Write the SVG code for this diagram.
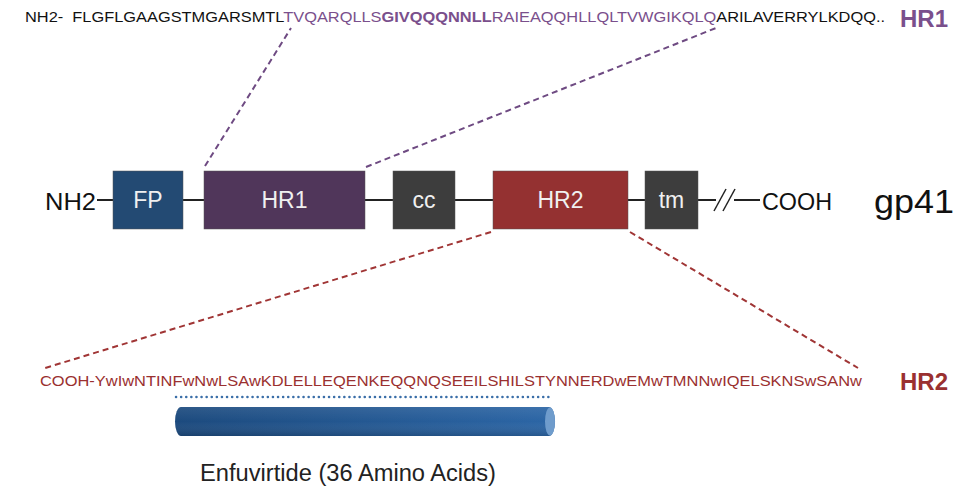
<svg xmlns="http://www.w3.org/2000/svg" width="978" height="491" viewBox="0 0 978 491">
<style>
.seq{font-family:"Liberation Sans",Arial,sans-serif;font-size:15px}
.blk{fill:#111}
.pur{fill:#7a4f8c}
.red{fill:#9a3030}
.box{stroke:#555;stroke-width:0.5}
.lbl{font-family:"Liberation Sans",Arial,sans-serif;font-size:23px;fill:#f0f0f0;text-anchor:middle}
.side{font-family:"Liberation Sans",Arial,sans-serif;font-size:24px;fill:#111}
.dash{fill:none;stroke-width:2;stroke-dasharray:6,4}
.tag{font-family:"Liberation Sans",Arial,sans-serif;font-size:24px;font-weight:bold}
</style>
<defs>
<linearGradient id="cyl" x1="0" y1="0" x2="1" y2="0">
<stop offset="0" stop-color="#1c4a7e"/>
<stop offset="1" stop-color="#2c66a6"/>
</linearGradient>
<linearGradient id="cylv" x1="0" y1="0" x2="0" y2="1">
<stop offset="0" stop-color="#ffffff" stop-opacity="0.08"/>
<stop offset="0.5" stop-color="#ffffff" stop-opacity="0"/>
<stop offset="1" stop-color="#000000" stop-opacity="0.15"/>
</linearGradient>
</defs>
<rect width="978" height="491" fill="#ffffff"/>

<g id="connectors">
<line x1="97" y1="200" x2="760" y2="200" stroke="#222" stroke-width="2"/>
<rect x="716" y="196" width="18" height="8" fill="#fff"/>
<line x1="714" y1="211" x2="726" y2="189" stroke="#222" stroke-width="1.5"/>
<line x1="723" y1="211" x2="735" y2="189" stroke="#222" stroke-width="1.5"/>
<path class="dash" stroke="#6e4a82" d="M205,166 L291,28"/>
<path class="dash" stroke="#6e4a82" d="M366,167 L716,28"/>
<path class="dash" stroke="#a03535" d="M491,232 L45,368"/>
<path class="dash" stroke="#a03535" d="M630,232 L858,368"/>
<line x1="176" y1="397" x2="552" y2="397" stroke="#3a6ea8" stroke-width="2.5" stroke-dasharray="0.1,5" stroke-linecap="round"/>
</g>

<g id="top-sequence">
<text class="seq" x="25" y="22" textLength="860" lengthAdjust="spacingAndGlyphs"><tspan class="blk">NH2-&#160; FLGFLGAAGSTMGARSMTL</tspan><tspan class="pur">TVQARQLLS</tspan><tspan class="pur" font-weight="bold">GIVQQQNNLL</tspan><tspan class="pur">RAIEAQQHLLQLTVWGIKQLQ</tspan><tspan class="blk">ARILAVERRYLKDQQ..</tspan></text>
<text class="tag" x="900" y="27" fill="#7a4f8c">HR1</text>
</g>

<g id="nh2"><text class="side" x="45" y="210" textLength="51" lengthAdjust="spacingAndGlyphs">NH2</text></g>
<g id="fp"><rect class="box" x="113" y="171" width="70" height="58" fill="#234a73"/><text class="lbl" x="148" y="208">FP</text></g>
<g id="hr1"><rect class="box" x="204" y="171" width="161" height="58" fill="#50365a"/><text class="lbl" x="284.5" y="208">HR1</text></g>
<g id="cc"><rect class="box" x="393" y="171" width="62" height="58" fill="#3d3d3d"/><text class="lbl" x="424" y="208">cc</text></g>
<g id="hr2"><rect class="box" x="493" y="171" width="135" height="58" fill="#943131"/><text class="lbl" x="560.5" y="208">HR2</text></g>
<g id="tm"><rect class="box" x="645" y="171" width="53" height="58" fill="#3d3d3d"/><text class="lbl" x="671.5" y="208">tm</text></g>
<g id="cooh"><text class="side" x="762" y="210" textLength="70" lengthAdjust="spacingAndGlyphs">COOH</text></g>
<g id="gp41"><text x="874" y="213" font-family="Liberation Sans,Arial,sans-serif" font-size="34" fill="#111" textLength="80" lengthAdjust="spacingAndGlyphs">gp41</text></g>

<g id="bottom-sequence">
<text class="seq red" x="40" y="386" textLength="822" lengthAdjust="spacingAndGlyphs">COOH-YwIwNTINFwNwLSAwKDLELLEQENKEQQNQSEEILSHILSTYNNERDwEMwTMNNwIQELSKNSwSANw</text>
<text class="tag" x="900" y="390" fill="#9a3030">HR2</text>
</g>

<g id="enfuvirtide">
<rect x="175" y="407" width="380" height="29" rx="6" ry="14.5" fill="url(#cyl)"/>
<rect x="175" y="407" width="380" height="29" rx="6" ry="14.5" fill="url(#cylv)"/>
<ellipse cx="550" cy="421.5" rx="5" ry="14" fill="#6f9ccc"/>
<text x="348" y="481" font-family="Liberation Sans,Arial,sans-serif" font-size="23" fill="#222" text-anchor="middle" textLength="296" lengthAdjust="spacingAndGlyphs">Enfuvirtide (36 Amino Acids)</text>
</g>
</svg>
